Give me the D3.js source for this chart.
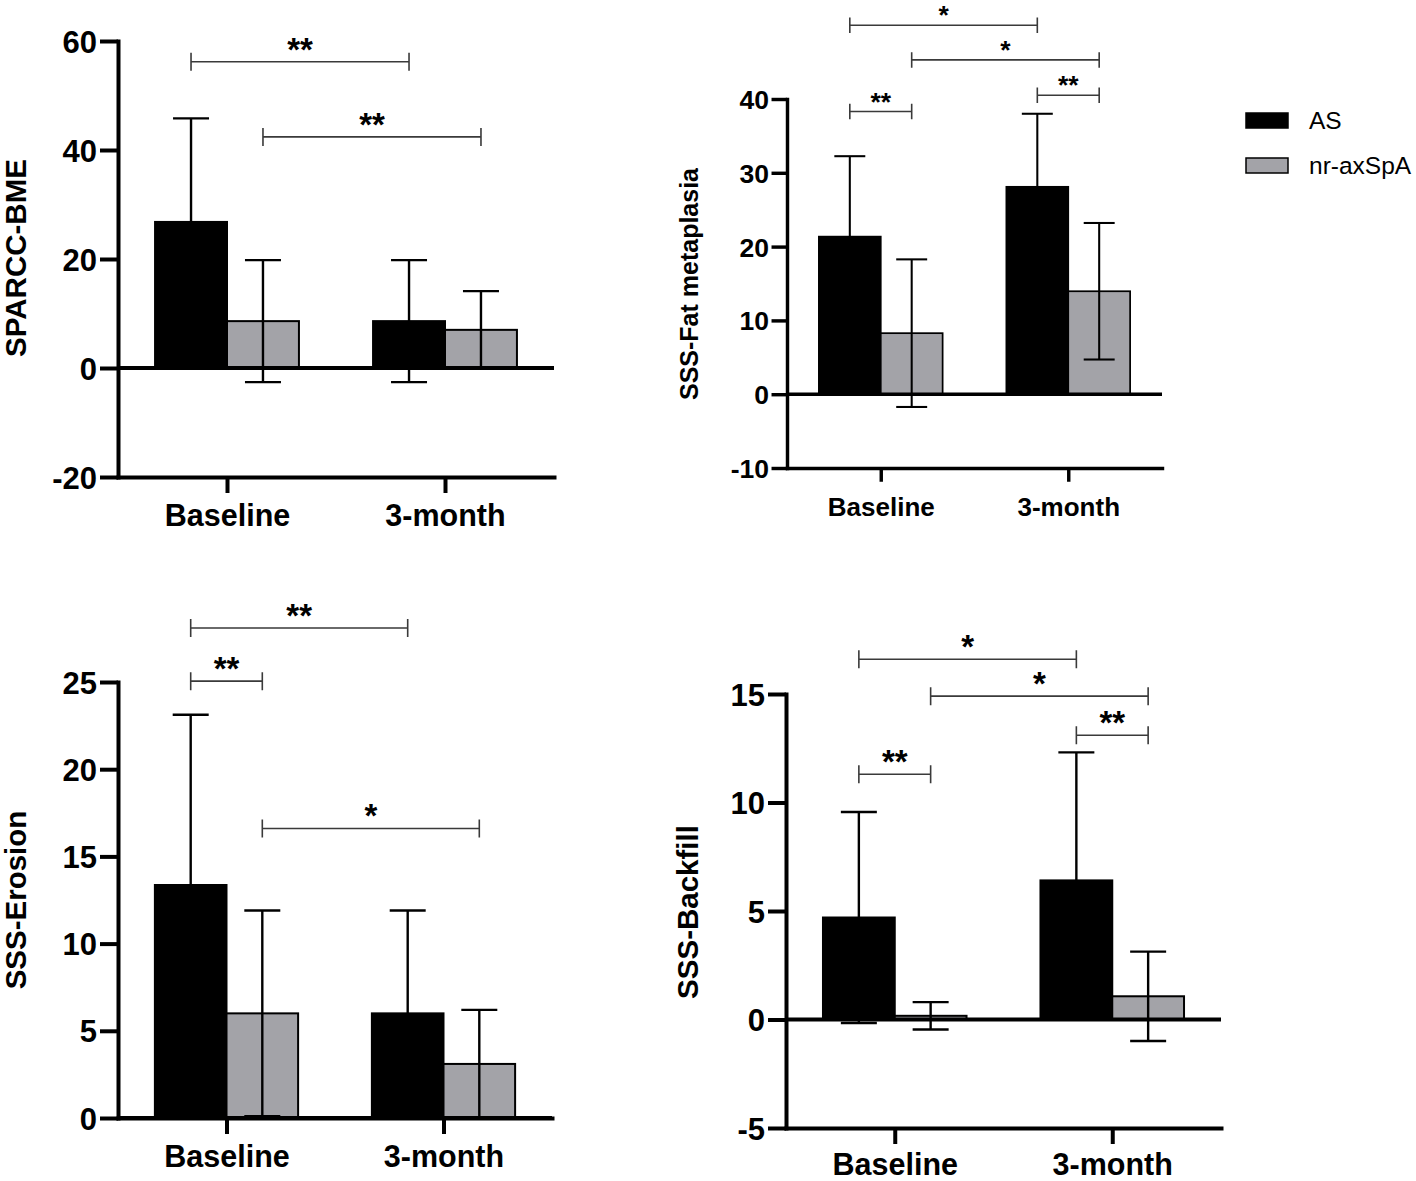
<!DOCTYPE html>
<html>
<head>
<meta charset="utf-8">
<script src="https://cdn.jsdelivr.net/npm/d3@7"></script>
<style>
  html, body { margin: 0; padding: 0; background: #fff; }
  svg text { font-family: "Liberation Sans", Arial, Helvetica, sans-serif; }
</style>
</head>
<body>
<svg id="chart" width="1416" height="1181"></svg>
<script>
// ---------- DATA ----------
const categories = ["Baseline", "3-month"];
const seriesNames = ["AS", "nr-axSpA"];
const seriesColors = ["#000000", "#a3a3a8"];

// Panel A: SPARCC-BME
const bmeLabel = "SPARCC-BME";
const bmeAS = [26.8, 8.6];
const bmeAS_SD = [19.0, 11.2];
const bmeNr = [8.6, 7.0];
const bmeNr_SD = [11.2, 7.1];
const bmeTicks = [-20, 0, 20, 40, 60];
const bmeSig = [
  { from: [0, 0], to: [1, 0], level: 56.2, label: "**" },
  { from: [0, 1], to: [1, 1], level: 42.4, label: "**" }
];

// Panel B: SSS-Fat metaplasia
const fatLabel = "SSS-Fat metaplasia";
const fatAS = [21.35, 28.1];
const fatAS_SD = [10.9, 9.9];
const fatNr = [8.27, 13.95];
const fatNr_SD = [10.0, 9.25];
const fatTicks = [-10, 0, 10, 20, 30, 40];
const fatSig = [
  { from: [0, 0], to: [1, 0], level: 50.0, label: "*" },
  { from: [0, 1], to: [1, 1], level: 45.3, label: "*" },
  { from: [0, 0], to: [0, 1], level: 38.3, label: "**" },
  { from: [1, 0], to: [1, 1], level: 40.5, label: "**" }
];

// Panel C: SSS-Erosion
const eroLabel = "SSS-Erosion";
const eroAS = [13.36, 6.0];
const eroAS_SD = [9.76, 5.9];
const eroNr = [6.0, 3.1];
const eroNr_SD = [5.9, 3.1];
const eroTicks = [0, 5, 10, 15, 20, 25];
const eroSig = [
  { from: [0, 0], to: [1, 0], level: 28.1, label: "**" },
  { from: [0, 0], to: [0, 1], level: 25.05, label: "**" },
  { from: [0, 1], to: [1, 1], level: 16.6, label: "*" }
];

// Panel D: SSS-Backfill
const bfLabel = "SSS-Backfill";
const bfAS = [4.70, 6.41];
const bfAS_SD = [4.86, 5.9];
const bfNr = [0.17, 1.07];
const bfNr_SD = [0.63, 2.06];
const bfTicks = [-5, 0, 5, 10, 15];
const bfSig = [
  { from: [0, 0], to: [1, 0], level: 16.6, label: "*" },
  { from: [0, 1], to: [1, 1], level: 14.9, label: "*" },
  { from: [1, 0], to: [1, 1], level: 13.1, label: "**" },
  { from: [0, 0], to: [0, 1], level: 11.3, label: "**" }
];

// ---------- LAYOUT ----------
const svg = d3.select("#chart");

function drawPanel(p) {
  const s = p.k; // size factor
  const g = svg.append("g");
  const y = d3.scaleLinear()
    .domain([d3.min(p.ticks), d3.max(p.ticks)])
    .range([p.bottom, p.top]);
  const x = d3.scalePoint().domain(categories).range([p.left, p.right]).padding(0.5);
  const barW = 0.165 * (p.right - p.left);
  const means = [p.as, p.nr];
  const sds = [p.asSD, p.nr_SD];
  const barX = (ci, si) => x(categories[ci]) - barW + si * barW;
  const barC = (ci, si) => barX(ci, si) + barW / 2;

  // bars
  const barData = [];
  categories.forEach((c, ci) => seriesNames.forEach((sn, si) => {
    barData.push({ ci, si, v: means[si][ci], sd: sds[si][ci] });
  }));
  g.selectAll("rect.bar").data(barData).enter().append("rect")
    .attr("class", "bar")
    .attr("x", d => barX(d.ci, d.si))
    .attr("width", barW)
    .attr("y", d => Math.min(y(d.v), y(0)))
    .attr("height", d => Math.abs(y(0) - y(d.v)))
    .attr("fill", d => seriesColors[d.si])
    .attr("stroke", "#000")
    .attr("stroke-width", 2 * s);

  // error bars
  const capW = 18 * s;
  const eb = g.selectAll("g.eb").data(barData).enter().append("g").attr("class", "eb")
    .attr("stroke", "#000").attr("stroke-width", 2.4 * s);
  eb.append("line")
    .attr("x1", d => barC(d.ci, d.si)).attr("x2", d => barC(d.ci, d.si))
    .attr("y1", d => y(d.v - d.sd)).attr("y2", d => y(d.v + d.sd));
  eb.append("line")
    .attr("x1", d => barC(d.ci, d.si) - capW).attr("x2", d => barC(d.ci, d.si) + capW)
    .attr("y1", d => y(d.v + d.sd)).attr("y2", d => y(d.v + d.sd));
  eb.append("line")
    .attr("x1", d => barC(d.ci, d.si) - capW).attr("x2", d => barC(d.ci, d.si) + capW)
    .attr("y1", d => y(d.v - d.sd)).attr("y2", d => y(d.v - d.sd));

  const axW = 4 * s;
  // zero line
  g.append("line")
    .attr("x1", p.left).attr("x2", p.right)
    .attr("y1", y(0)).attr("y2", y(0))
    .attr("stroke", "#000").attr("stroke-width", axW);

  // y axis
  const yAxis = g.append("g")
    .attr("transform", `translate(${p.left},0)`)
    .call(d3.axisLeft(y).tickValues(p.ticks).tickSize(18 * s).tickSizeOuter(0).tickPadding(3 * s)
      .tickFormat(d => String(d)));
  yAxis.select(".domain").attr("stroke-width", axW).attr("stroke-linecap", "square");
  yAxis.selectAll(".tick line").attr("stroke-width", axW);
  yAxis.selectAll(".tick text")
    .attr("font-size", p.tickFont).attr("font-weight", "bold").attr("fill", "#000")
    .attr("dy", "0.36em");

  // x axis
  const xAxis = g.append("g")
    .attr("transform", `translate(0,${y(d3.min(p.ticks))})`)
    .call(d3.axisBottom(x).tickSize(16 * s).tickSizeOuter(0).tickPadding(p.catPad));
  xAxis.select(".domain").attr("stroke-width", axW).attr("stroke-linecap", "square");
  xAxis.selectAll(".tick line").attr("stroke-width", axW);
  xAxis.selectAll(".tick text")
    .attr("font-size", p.catFont).attr("font-weight", "bold").attr("fill", "#000");

  // y label
  g.append("text")
    .attr("transform", `translate(${p.labelX},${p.labelY}) rotate(-90)`)
    .attr("text-anchor", "middle")
    .attr("dy", "0.36em")
    .attr("font-size", p.labelFont)
    .attr("font-weight", "bold")
    .text(p.label);

  // significance brackets
  const endH = 9 * s;
  const sg = g.selectAll("g.sig").data(p.sig).enter().append("g").attr("class", "sig");
  sg.append("path")
    .attr("d", d => {
      const x1 = barC(d.from[0], d.from[1]);
      const x2 = barC(d.to[0], d.to[1]);
      const yy = y(d.level);
      return `M${x1},${yy - endH}V${yy + endH}M${x1},${yy}H${x2}M${x2},${yy - endH}V${yy + endH}`;
    })
    .attr("fill", "none").attr("stroke", "#3a3a3a").attr("stroke-width", 1.6);
  sg.append("text")
    .attr("x", d => (barC(d.from[0], d.from[1]) + barC(d.to[0], d.to[1])) / 2)
    .attr("y", d => y(d.level) - 1 * s)
    .attr("text-anchor", "middle")
    .attr("font-size", p.starFont)
    .attr("font-weight", "bold")
    .text(d => d.label);
}

drawPanel({ label: bmeLabel, as: bmeAS, asSD: bmeAS_SD, nr: bmeNr, nr_SD: bmeNr_SD, ticks: bmeTicks, sig: bmeSig,
  left: 118, right: 554, top: 41, bottom: 477, k: 1, tickFont: 31, catFont: 30.5, catPad: 11, labelFont: 29.5, labelX: 15, labelY: 258, starFont: 33 });
drawPanel({ label: fatLabel, as: fatAS, asSD: fatAS_SD, nr: fatNr, nr_SD: fatNr_SD, ticks: fatTicks, sig: fatSig,
  left: 787, right: 1162, top: 99, bottom: 468, k: 0.86, tickFont: 26.5, catFont: 26, catPad: 16, labelFont: 25, labelX: 689, labelY: 284, starFont: 26.5 });
drawPanel({ label: eroLabel, as: eroAS, asSD: eroAS_SD, nr: eroNr, nr_SD: eroNr_SD, ticks: eroTicks, sig: eroSig,
  left: 118, right: 552, top: 682, bottom: 1118, k: 1, tickFont: 31, catFont: 30.5, catPad: 11, labelFont: 29.5, labelX: 15, labelY: 900, starFont: 33 });
drawPanel({ label: bfLabel, as: bfAS, asSD: bfAS_SD, nr: bfNr, nr_SD: bfNr_SD, ticks: bfTicks, sig: bfSig,
  left: 786, right: 1221, top: 694, bottom: 1128, k: 1, tickFont: 31, catFont: 30.5, catPad: 9, labelFont: 29.5, labelX: 687, labelY: 912, starFont: 33 });

// legend
const lg = svg.append("g").attr("transform", "translate(1246,113)");
const li = lg.selectAll("g").data(seriesNames).enter().append("g")
  .attr("transform", (d, i) => `translate(0,${i * 45})`);
li.append("rect").attr("width", 42).attr("height", 15)
  .attr("fill", (d, i) => seriesColors[i]).attr("stroke", "#000").attr("stroke-width", 1.5);
li.append("text").attr("x", 63).attr("y", 16).attr("font-size", 24.5).text(d => d);
</script>
</body>
</html>
